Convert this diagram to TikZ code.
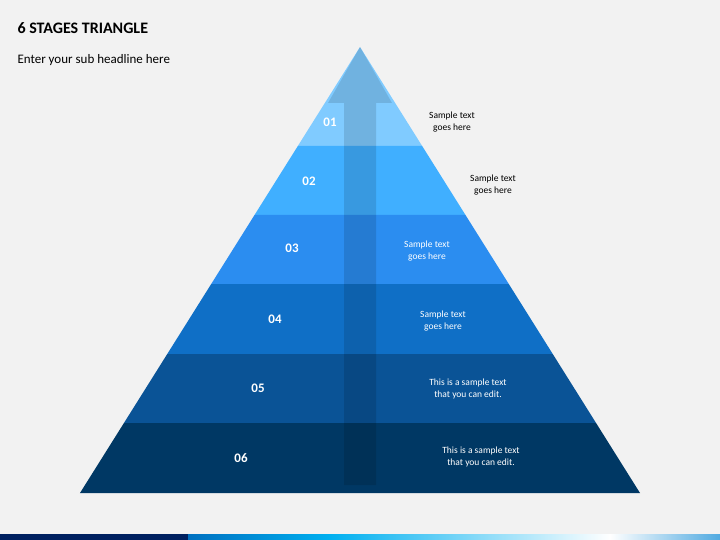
\documentclass[tikz,border=0pt]{standalone}
\usepackage{fontspec}
\setmainfont{Carlito}
\usetikzlibrary{positioning}
\definecolor{bg}{HTML}{F2F2F2}
\definecolor{cA}{HTML}{80CBFF}
\definecolor{cB}{HTML}{40AFFF}
\definecolor{cC}{HTML}{2B8DF0}
\definecolor{cD}{HTML}{0F6FC6}
\definecolor{cE}{HTML}{0A5396}
\definecolor{cF}{HTML}{003864}
\definecolor{navy}{HTML}{002060}
\tikzset{
  num/.style={text=white, font=\bfseries\fontsize{13}{15}\selectfont},
  note/.style={align=center, font=\fontsize{9.5}{12}\selectfont},
  wnote/.style={note, text=white}
}
\newcommand{\lx}[1]{360-(#1-47)*0.6278}
\newcommand{\rx}[1]{360+(#1-47)*0.6278}
\begin{document}
\begin{tikzpicture}[x=1pt, y=-1pt]
\fill[bg] (0,0) rectangle (720,540);

% Title
\node[anchor=west, font=\bfseries\fontsize{16}{18}\selectfont] (title) at (14,28) {6 STAGES TRIANGLE};
\node[anchor=west, font=\fontsize{13}{15}\selectfont] (sub) at (14,60) {Enter your sub headline here};

% Bands
\fill[cA] (360,47) -- ({\rx{146}},146) -- ({\lx{146}},146) -- cycle;
\foreach \ya/\yb/\c in {146/215/cB, 215/284/cC, 284/354/cD, 354/423/cE, 423/493/cF}
  \fill[\c] ({\lx{\ya}},\ya) -- ({\rx{\ya}},\ya) -- ({\rx{\yb}},\yb) -- ({\lx{\yb}},\yb) -- cycle;

% Arrow
\fill[black, opacity=0.12] (360,47) -- (392,103) -- (376,103) -- (376,485) -- (344,485) -- (344,103) -- (328,103) -- cycle;

% Numbers
\node[num] (n1) at (330,122) {01};
\node[num] (n2) at (309,181) {02};
\node[num] (n3) at (292,248) {03};
\node[num] (n4) at (275,319) {04};
\node[num] (n5) at (258,388) {05};
\node[num] (n6) at (241,458) {06};

% Texts
\node[note] (t1) at (452,122) {Sample text\\goes here};
\node[note] (t2) at (493,185) {Sample text\\goes here};
\node[wnote] (t3) at (427,251) {Sample text\\goes here};
\node[wnote] (t4) at (443,321) {Sample text\\goes here};
\node[wnote] (t5) at (468,389) {This is a sample text\\that you can edit.};
\node[wnote] (t6) at (481,457) {This is a sample text\\that you can edit.};

% Bottom bar
\fill[navy] (0,534) rectangle (188,540);
\shade[left color={rgb,255:red,0;green,112;blue,192}, right color={rgb,255:red,0;green,176;blue,240}] (188,534) rectangle (330,540);
\shade[left color={rgb,255:red,0;green,176;blue,240}, right color=white] (330,534) rectangle (610,540);
\shade[left color=white, right color={rgb,255:red,80;green,170;blue,225}] (610,534) rectangle (720,540);
\end{tikzpicture}
\end{document}
